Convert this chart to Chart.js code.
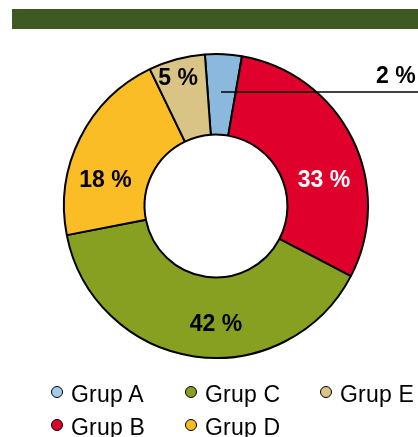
<!DOCTYPE html>
<html>
<head>
<meta charset="utf-8">
<script src="https://cdn.jsdelivr.net/npm/chart.js@4"></script>
<style>
  html, body { margin: 0; padding: 0; background: #fff; }
  body { width: 418px; height: 437px; position: relative; overflow: hidden; font-family: "Liberation Sans", Arial, sans-serif; }
  #bar { position: absolute; left: 12px; top: 9px; width: 406px; height: 20px; background: #3e5a22; }
  #wrap { position: absolute; left: 0; top: 0; width: 418px; height: 437px; }
  .leg { position: absolute; font-size: 23px; color: #000; line-height: 22px; white-space: nowrap; letter-spacing: 0.2px; }
  .leg i { position: absolute; left: -20px; top: 3px; width: 10px; height: 10px; border: 1px solid #000; border-radius: 50%; }
</style>
</head>
<body>
<div id="bar"></div>
<div id="wrap"><canvas id="myChart" width="418" height="437"></canvas></div>
<div id="legend"></div>
<script>
const groups = ['Grup A', 'Grup B', 'Grup C', 'Grup D', 'Grup E'];
const shares = [3.9, 29.9, 39.3, 20.9, 6.0];
const shareText = ['2 %', '33 %', '42 %', '18 %', '5 %'];
const colors = ['#8bb9de', '#df002b', '#87a021', '#fbbd25', '#d9c485'];
const legendColors = ['#a3cbea', '#df002b', '#87a021', '#fbbd25', '#d9c485'];

// where each label sits: angle from top (deg, clockwise) and distance from centre
const labelPlace = [
  { angle: 0, dist: 0 },
  { angle: 76.5, dist: 111, color: '#fff' },
  { angle: 180, dist: 117.5 },
  { angle: 283.2, dist: 113.5 },
  { angle: -16.5, dist: 133.5 }
];

const sliceLabels = {
  id: 'sliceLabels',
  afterDatasetsDraw(chart) {
    const arcs = chart.getDatasetMeta(0).data;
    const cx = arcs[0].x, cy = arcs[0].y;
    const c = chart.ctx;
    c.save();
    c.font = 'bold 23px "Liberation Sans", Arial, sans-serif';
    c.textBaseline = 'middle';
    shareText.forEach((t, i) => {
      if (i === 0) {
        // leader line for the small slice
        c.strokeStyle = '#000';
        c.lineWidth = 1.5;
        c.beginPath();
        c.moveTo(cx + 5, cy - 114);
        c.lineTo(418, cy - 114);
        c.stroke();
        c.fillStyle = '#000';
        c.textAlign = 'left';
        c.fillText(t, 376, cy - 129);
        return;
      }
      const p = labelPlace[i];
      const a = p.angle * Math.PI / 180;
      c.fillStyle = p.color || '#000';
      c.textAlign = 'center';
      c.fillText(t, cx + Math.sin(a) * p.dist, cy - Math.cos(a) * p.dist + 1);
    });
    c.restore();
  }
};

new Chart(document.getElementById('myChart'), {
  type: 'doughnut',
  data: {
    labels: groups,
    datasets: [{
      data: shares,
      backgroundColor: colors,
      borderColor: '#000',
      borderWidth: 2,
      hoverOffset: 0
    }]
  },
  options: {
    responsive: false,
    animation: false,
    events: [],
    rotation: -4.2,
    radius: 152,
    cutout: '47%',
    layout: { padding: { left: 14, right: 0, top: 0, bottom: 25 } },
    plugins: {
      legend: { display: false },
      tooltip: { enabled: false }
    }
  },
  plugins: [sliceLabels]
});

// legend laid out in columns: A B | C D | E
const legendSpots = [[71, 383], [71, 416], [205, 383], [205, 416], [340, 383]];
const legendBox = document.getElementById('legend');
groups.forEach((g, i) => {
  const d = document.createElement('div');
  d.className = 'leg';
  d.style.left = legendSpots[i][0] + 'px';
  d.style.top = legendSpots[i][1] + 'px';
  d.innerHTML = '<i style="background:' + legendColors[i] + '"></i>' + g;
  legendBox.appendChild(d);
});
</script>
</body>
</html>
